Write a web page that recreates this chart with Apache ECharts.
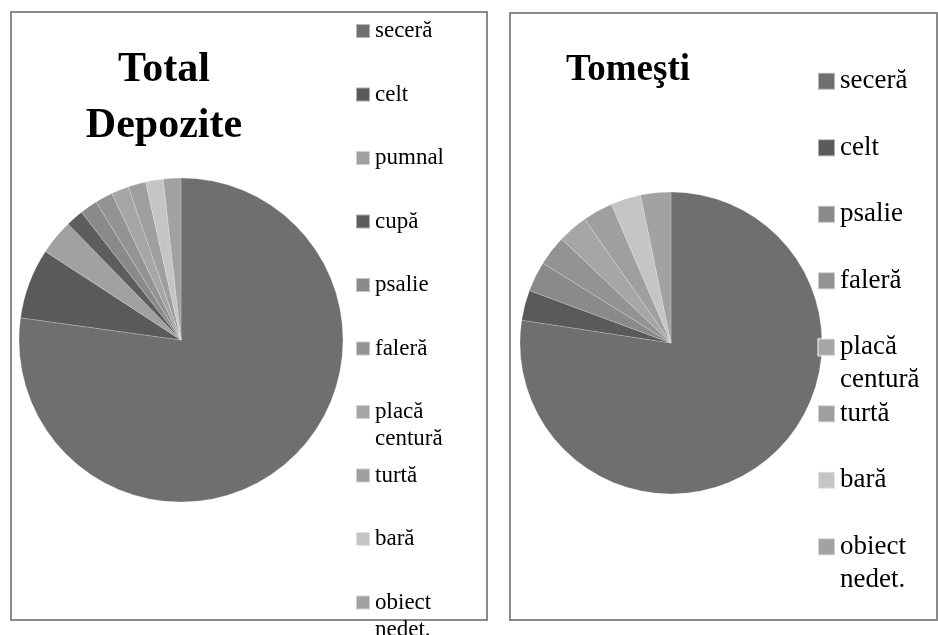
<!DOCTYPE html>
<html><head><meta charset="utf-8">
<script src="https://cdn.jsdelivr.net/npm/echarts@6/dist/echarts.min.js"></script>
<style>html,body{margin:0;padding:0;background:#fff}#c{width:938px;height:635px}</style>
</head><body><div id="c"></div>
<script>
// ---- data ----
const totalTitle = 'Total\nDepozite';
const totalCategories = ['seceră','celt','pumnal','cupă','psalie','faleră','placă centură','turtă','bară','obiect nedet.'];
const totalValues = [44, 4, 2, 1, 1, 1, 1, 1, 1, 1];
const tomestiTitle = 'Tomeşti';
const tomestiCategories = ['seceră','celt','psalie','faleră','placă centură','turtă','bară','obiect nedet.'];
const tomestiValues = [24, 1, 1, 1, 1, 1, 1, 1];

// ---- styles ----
const sliceColor = {
  'seceră':'#6f6f6f','celt':'#5a5a5a','pumnal':'#a1a1a1','cupă':'#5d5d5d','psalie':'#8a8a8a',
  'faleră':'#939393','placă centură':'#a6a6a6','turtă':'#9f9f9f','bară':'#c5c5c5','obiect nedet.':'#a2a2a2'
};
const FONT = "'Liberation Serif','Times New Roman',serif";
// blank first line so the name's first line sits level with the swatch
const legendFmt = n => '\n' + (n.indexOf(' ') >= 0 ? n.replace(' ', '\n') : n + '\n ');

function mkData(cats, vals){
  return cats.map((c,i)=>({name:c, value:vals[i], itemStyle:{color:sliceColor[c]}}));
}

const chart = echarts.init(document.getElementById('c'), null, {renderer:'canvas'});
chart.setOption({
  animation:false,
  backgroundColor:'#fff',
  graphic:[
    {type:'rect', shape:{x:11,y:12,width:476,height:608}, style:{fill:'none', stroke:'#8a8a8a', lineWidth:2}, silent:true},
    {type:'rect', shape:{x:510,y:13,width:427,height:607}, style:{fill:'none', stroke:'#8a8a8a', lineWidth:2}, silent:true}
  ],
  title:[
    {text: totalTitle, left:164, top:42, padding:0, textAlign:'center',
     textStyle:{fontFamily:FONT, fontSize:42, fontWeight:'bold', lineHeight:56, color:'#000'}},
    {text: tomestiTitle, left:628, top:50, padding:0, textAlign:'center',
     textStyle:{fontFamily:FONT, fontSize:37, fontWeight:'bold', lineHeight:40, color:'#000'}}
  ],
  legend:[
    {seriesIndex:0, data: totalCategories, orient:'vertical', left:355, top:-9.5, height:800, padding:0,
     itemWidth:14, itemHeight:14, itemGap:-17.5, icon:'rect', selectedMode:false,
     formatter: legendFmt,
     textStyle:{fontFamily:FONT, fontSize:23, lineHeight:27, color:'#000'}},
    {seriesIndex:1, data: tomestiCategories, orient:'vertical', left:817, top:31.8, height:800, padding:0,
     itemWidth:17, itemHeight:17, itemGap:-32.5, icon:'rect', selectedMode:false,
     formatter: legendFmt,
     textStyle:{fontFamily:FONT, fontSize:27, lineHeight:33, color:'#000'}}
  ],
  series:[
    {type:'pie', center:[181,340], radius:162, startAngle:90, clockwise:true,
     label:{show:false}, labelLine:{show:false}, emphasis:{disabled:true}, silent:true,
     itemStyle:{borderWidth:0.4, borderColor:'rgba(255,255,255,0.5)'},
     data: mkData(totalCategories, totalValues)},
    {type:'pie', center:[671,343], radius:151, startAngle:90, clockwise:true,
     label:{show:false}, labelLine:{show:false}, emphasis:{disabled:true}, silent:true,
     itemStyle:{borderWidth:0.4, borderColor:'rgba(255,255,255,0.5)'},
     data: mkData(tomestiCategories, tomestiValues)}
  ]
});
</script></body></html>
